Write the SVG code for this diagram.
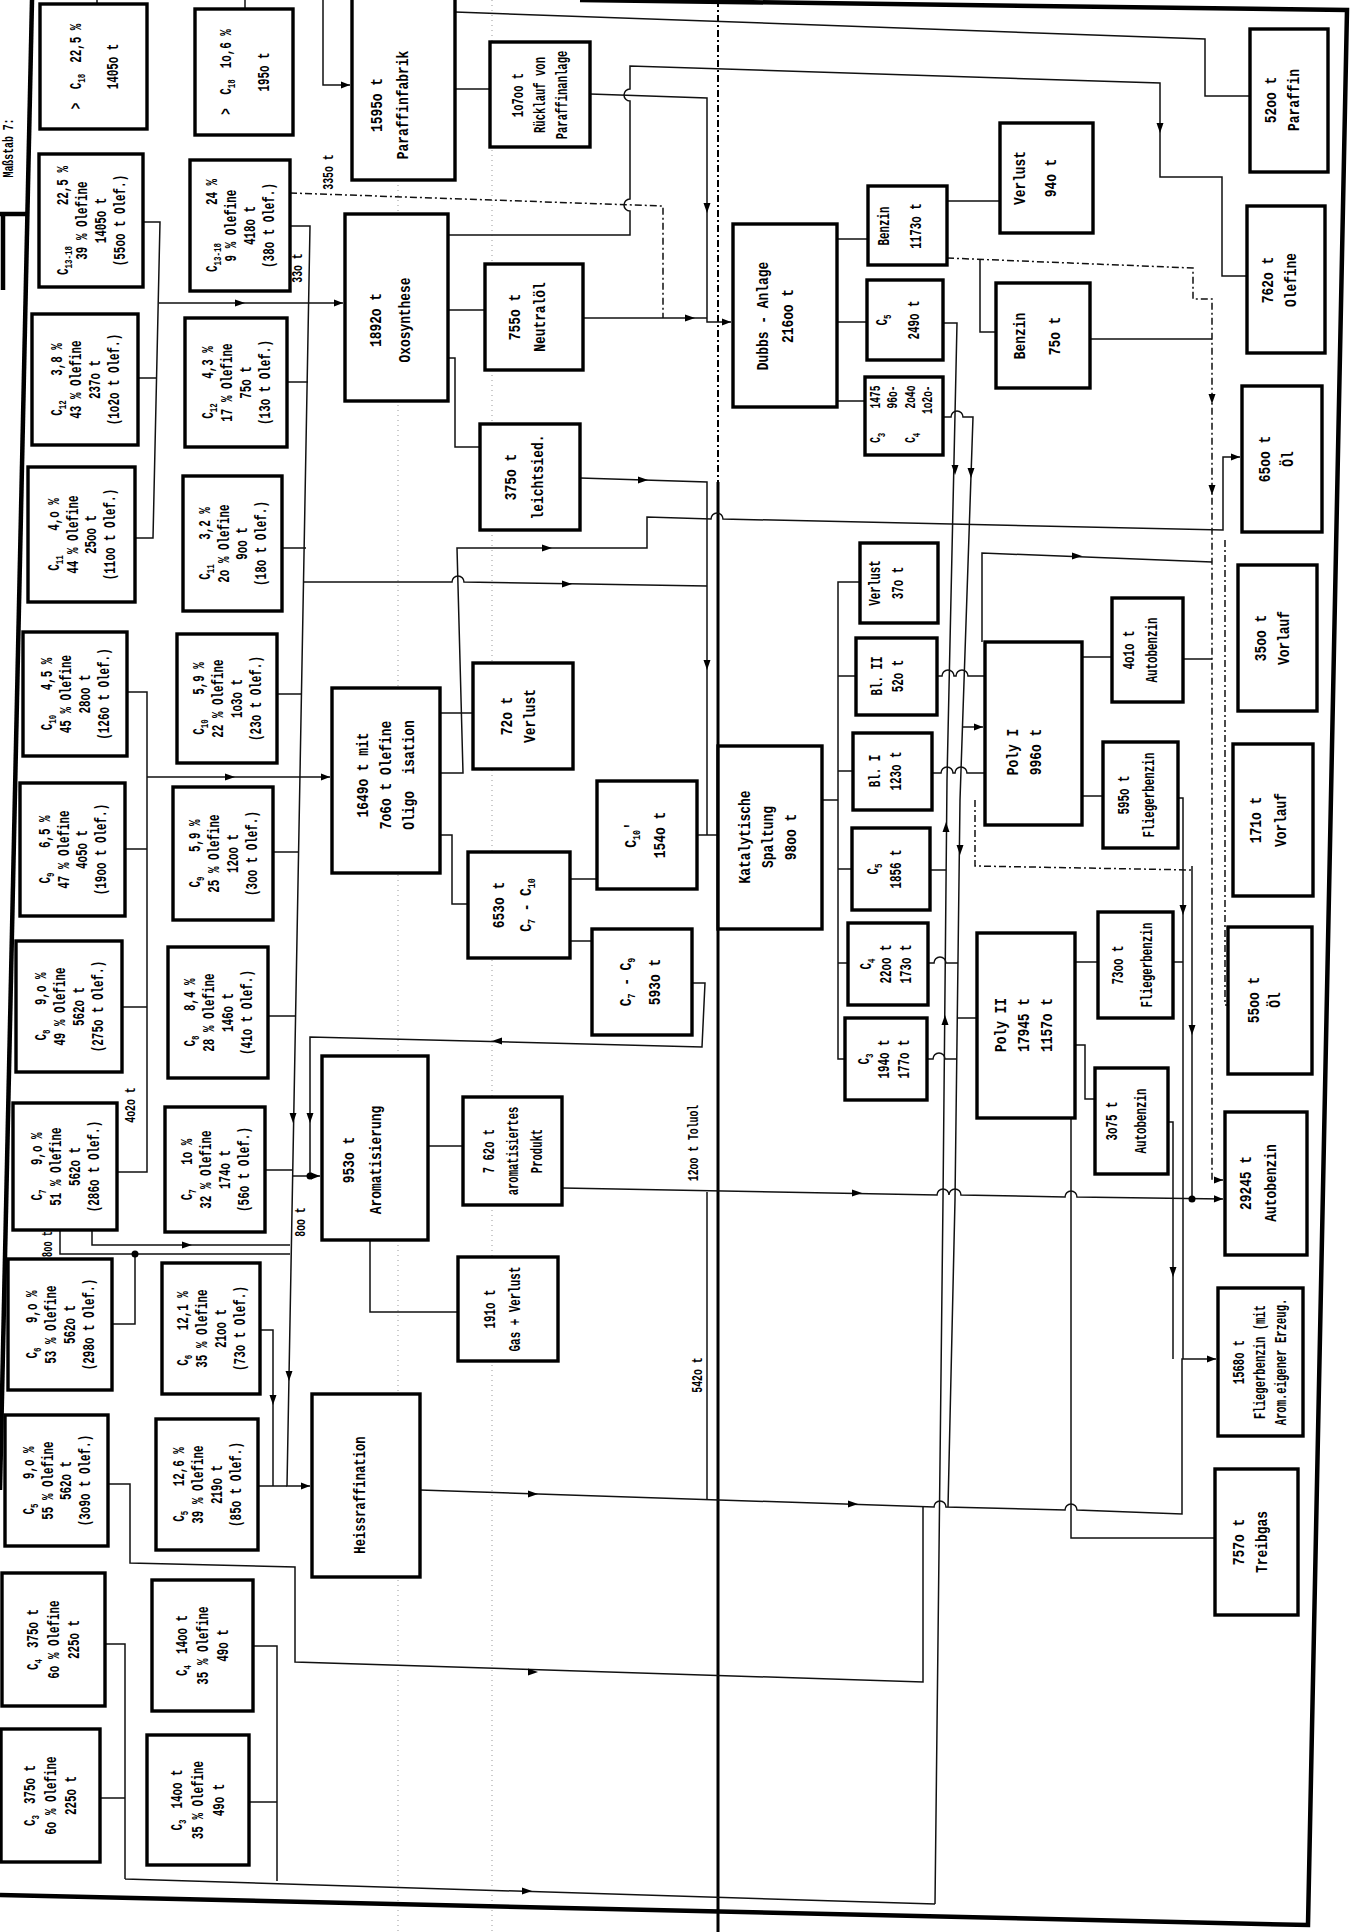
<svg xmlns="http://www.w3.org/2000/svg" xmlns:xlink="http://www.w3.org/1999/xlink" width="1353" height="1932" viewBox="0 0 1353 1932">
<style>
.t{font-family:"Liberation Mono","DejaVu Sans Mono",monospace;font-size:16px;font-weight:bold;fill:#000;text-anchor:middle}
.q{font-size:17px}
.sm{font-size:14px}
.s{font-size:11px}
.b{fill:#fff;stroke:#000;stroke-width:3.4}
.c{fill:none;stroke:#111;stroke-width:1.5}
.dd{stroke-dasharray:7 3 2 3}
.fr{fill:none;stroke:#000;stroke-width:4.5}
.fold{fill:none;stroke:#999;stroke-width:1;stroke-dasharray:1 4}
.dot{fill:#000}
</style>
<defs>
<marker id="a" viewBox="0 0 10 10" refX="10" refY="5" markerWidth="10" markerHeight="9" markerUnits="userSpaceOnUse" orient="auto"><path d="M0,1 L10,5 L0,9 Z" fill="#000"/></marker>
<path id="m" d="M5,0 L-5,-3.5 L-5,3.5 Z" fill="#000"/>
</defs>
<rect width="1353" height="1932" fill="#fff"/>

<g id="frame">
<path class="fold" d="M398,0 V1932 M492,0 V1932"/>
<path class="fr" d="M32,0 L0,1490"/>
<path class="fr" d="M580,0 L1347,10 L1308,1925 L0,1895"/>
<path class="fr" d="M0,214 H28 M3,214 V290"/>
<path fill="none" stroke="#000" stroke-width="2" class="dd" d="M718,0 V482"/>
<path fill="none" stroke="#000" stroke-width="3" d="M718,482 V1932"/>
<g transform="translate(8,148) rotate(-90) scale(0.7,1)"><text class="t sm" y="5">Maßstab 7:</text></g>
</g>

<g id="connectors">
<path class="c" d="M97,0 V4 M245,0 V9"/>
<path class="c" d="M323,0 V85 H350" marker-end="url(#a)"/>
<path class="c" d="M455,89 H490"/>
<path class="c" d="M455,12 L1205,39 V96 H1250"/>
<path class="c" d="M448,235 H630 V211 a6,6 0 0 1 0,-12 V101 a6,6 0 0 1 0,-12 V66 L1160,83 V177 H1222 V276 H1247"/>
<use xlink:href="#m" transform="translate(1160,128) rotate(90)"/>
<path class="c" d="M590,94 L707,98 V322 H731" marker-end="url(#a)"/>
<use xlink:href="#m" transform="translate(707,208) rotate(90)"/>
<path class="c dd" d="M290,193 L663,206 V318"/>
<path class="c" d="M583,318 H707"/>
<use xlink:href="#m" transform="translate(690,318)"/>
<path class="c" d="M290,226 H310 L287,1486 H310" marker-end="url(#a)"/>
<path class="c" d="M287,382 H308 M282,548 H306 M277,694 H302 M273,852 H299 M268,1016 H296 M265,1170 H293 M260,1330 H273 V1486 M258,1486 H287"/>
<use xlink:href="#m" transform="translate(293,1118) rotate(90)"/>
<use xlink:href="#m" transform="translate(289,1376) rotate(90)"/>
<use xlink:href="#m" transform="translate(273,1400) rotate(90)"/>
<path class="c" d="M143,222 H160 L153,538 H135 M138,378 H157 M159,303 H343" marker-end="url(#a)"/>
<use xlink:href="#m" transform="translate(240,303)"/>
<path class="c" d="M448,310 H485 M448,358 H455 V447 H480"/>
<path class="c" d="M580,478 L707,482 V835 H718 M697,835 H707"/>
<use xlink:href="#m" transform="translate(643,480)"/>
<use xlink:href="#m" transform="translate(707,665) rotate(90)"/>
<path class="c" d="M440,773 H463 L457,548 H647 V517 L711,519 a6,6 0 0 1 12,0 L1223,530 V457 H1240" marker-end="url(#a)"/>
<use xlink:href="#m" transform="translate(547,548)"/>
<path class="c" d="M303,582 H452 a6,6 0 0 1 12,0 L707,586"/>
<use xlink:href="#m" transform="translate(567,584)"/>
<path class="c" d="M440,713 H473 M440,835 H452 V904 H468"/>
<path class="c" d="M127,692 H147 V1172 H117 M125,849 H147 M122,1007 H147 M147,777 H330" marker-end="url(#a)"/>
<use xlink:href="#m" transform="translate(230,777)"/>
<path class="c" d="M692,983 H705 L702,1047 L310,1037 V1176 H320" marker-end="url(#a)"/>
<path class="c" d="M293,1176 H310"/>
<circle class="dot" cx="310" cy="1176" r="3.5"/>
<use xlink:href="#m" transform="translate(497,1041) rotate(180)"/>
<use xlink:href="#m" transform="translate(310,1118) rotate(90)"/>
<path class="c" d="M60,1230 V1254 H290 M92,1230 V1245 H290 M112,1324 H135 V1254"/>
<circle class="dot" cx="135" cy="1254" r="3.5"/>
<use xlink:href="#m" transform="translate(187,1245)"/>
<path class="c" d="M428,1146 H463 M370,1240 V1312 H458 M570,879 H597 M570,941 H592"/>
<path class="c" d="M562,1188 L937,1195 a6,6 0 0 1 12,0 a6,6 0 0 1 12,0 L1065,1197 a6,6 0 0 1 12,0 L1223,1199" marker-end="url(#a)"/>
<use xlink:href="#m" transform="translate(857,1193)"/>
<path class="c" d="M707,1192 V1500"/>
<path class="c" d="M420,1490 L934,1507 a6,6 0 0 1 12,0 L1065,1510 a6,6 0 0 1 12,0 L1182,1514 V1359 H1216" marker-end="url(#a)"/>
<use xlink:href="#m" transform="translate(533,1494)"/>
<use xlink:href="#m" transform="translate(853,1504)"/>
<path class="c" d="M1071,1118 V1538 H1215"/>
<path class="c" d="M1178,798 H1183 V1359 M1173,962 H1183 M1168,1122 H1173 V1359"/>
<use xlink:href="#m" transform="translate(1183,910) rotate(90)"/>
<use xlink:href="#m" transform="translate(1173,1272) rotate(90)"/>
<path class="c" d="M1192,866 V1199"/>
<circle class="dot" cx="1192" cy="1199" r="3.5"/>
<use xlink:href="#m" transform="translate(1192,1030) rotate(90)"/>
<path class="c dd" d="M975,800 V866 L1192,870"/>
<path class="c dd" d="M947,258 L1193,268 V299 H1212 V1180 H1223" marker-end="url(#a)"/>
<use xlink:href="#m" transform="translate(1212,399) rotate(90)"/>
<use xlink:href="#m" transform="translate(1212,490) rotate(90)"/>
<path class="c" d="M1088,339 H1212 M1183,659 H1212"/>
<path class="c" d="M982,642 V553 L1212,562"/>
<use xlink:href="#m" transform="translate(1077,556)"/>
<path class="c" d="M980,259 V332 H996 M947,201 H1000"/>
<path class="c" d="M837,239 H868 M833,322 H867 M830,401 H865"/>
<path class="c" d="M943,323 H957 L947,780 L943,1200 L935,1904"/>
<use xlink:href="#m" transform="translate(955,470) rotate(90)"/>
<use xlink:href="#m" transform="translate(946,827) rotate(-90)"/>
<use xlink:href="#m" transform="translate(945,1020) rotate(-90)"/>
<path class="c" d="M942,417 H951 a6,6 0 0 1 12,0 H973 L960,800 L955,1200 L948,1507"/>
<use xlink:href="#m" transform="translate(971,473) rotate(90)"/>
<use xlink:href="#m" transform="translate(960,850) rotate(90)"/>
<path class="c" d="M962,727 H983" marker-end="url(#a)"/>
<path class="c" d="M957,1018 H977 M930,870 H946 M928,963 H934 a6,6 0 0 1 12,0 H958 M927,1059 H933 a6,6 0 0 1 12,0 H957"/>
<path class="c" d="M932,773 H941 a6,6 0 0 1 12,0 H955 a6,6 0 0 1 12,0 H985 M937,676 H942 a6,6 0 0 1 12,0 H956 a6,6 0 0 1 12,0 H985"/>
<path class="c" d="M822,800 H838 M860,582 H838 V1059 H845 M838,676 H856 M838,771 H853 M838,869 H852 M838,963 H848"/>
<path class="c" d="M1082,657 H1112 M1082,796 H1103 M1075,962 H1098 M1075,1045 H1085 V1099 H1095"/>
<path class="c" d="M105,1644 H125 V1879 M100,1798 H125 M253,1646 H277 V1881 M249,1802 H277 M125,1879 L935,1904"/>
<use xlink:href="#m" transform="translate(527,1891)"/>
<path class="c" d="M108,1484 H130 V1563 L295,1567 V1662 L923,1682 V1507"/>
<use xlink:href="#m" transform="translate(533,1672)"/>
<path class="c dd" d="M1225,540 V1005 H1228"/>
</g>

<g id="col1">
<g id="n-c18a"><rect class="b" x="40" y="4" width="107" height="125"/><g transform="translate(93.5,66.5) rotate(-90) scale(0.68,1)"><text class="t" y="-13">&gt;<tspan dx="20">C</tspan><tspan class="s" dy="4">18</tspan><tspan dy="-4" dx="16">22,5 %</tspan></text><text class="t" y="25">1405o t</text></g></g>
<g id="n-c1318a"><rect class="b" x="39" y="154" width="104" height="133"/><g transform="translate(91,220.5) rotate(-90) scale(0.68,1)"><text class="t" y="-23">C<tspan class="s" dy="4">13-18</tspan><tspan dy="-4" dx="60">22,5 %</tspan></text><text class="t" y="-4">39 % Olefine</text><text class="t" y="15">1405o t</text><text class="t" y="34">(55oo t Olef.)</text></g></g>
<g id="n-c12a"><rect class="b" x="32" y="314" width="106" height="131"/><g transform="translate(85,379.5) rotate(-90) scale(0.68,1)"><text class="t" y="-23">C<tspan class="s" dy="4">12</tspan><tspan dy="-4" dx="36">3,8 %</tspan></text><text class="t" y="-4">43 % Olefine</text><text class="t" y="15">237o t</text><text class="t" y="34">(1o2o t Olef.)</text></g></g>
<g id="n-c11a"><rect class="b" x="28" y="467" width="107" height="135"/><g transform="translate(81.5,534.5) rotate(-90) scale(0.68,1)"><text class="t" y="-23">C<tspan class="s" dy="4">11</tspan><tspan dy="-4" dx="36">4,o %</tspan></text><text class="t" y="-4">44 % Olefine</text><text class="t" y="15">25oo t</text><text class="t" y="34">(11oo t Olef.)</text></g></g>
<g id="n-c10a"><rect class="b" x="23" y="632" width="104" height="124"/><g transform="translate(75,694) rotate(-90) scale(0.68,1)"><text class="t" y="-23">C<tspan class="s" dy="4">10</tspan><tspan dy="-4" dx="36">4,5 %</tspan></text><text class="t" y="-4">45 % Olefine</text><text class="t" y="15">28oo t</text><text class="t" y="34">(126o t Olef.)</text></g></g>
<g id="n-c9a"><rect class="b" x="20" y="783" width="105" height="133"/><g transform="translate(72.5,849.5) rotate(-90) scale(0.68,1)"><text class="t" y="-23">C<tspan class="s" dy="4">9</tspan><tspan dy="-4" dx="36">6,5 %</tspan></text><text class="t" y="-4">47 % Olefine</text><text class="t" y="15">4o5o t</text><text class="t" y="34">(19oo t Olef.)</text></g></g>
<g id="n-c8a"><rect class="b" x="16" y="941" width="106" height="131"/><g transform="translate(69,1006.5) rotate(-90) scale(0.68,1)"><text class="t" y="-23">C<tspan class="s" dy="4">8</tspan><tspan dy="-4" dx="36">9,o %</tspan></text><text class="t" y="-4">49 % Olefine</text><text class="t" y="15">562o t</text><text class="t" y="34">(275o t Olef.)</text></g></g>
<g id="n-c7a"><rect class="b" x="13" y="1103" width="104" height="127"/><g transform="translate(65,1166.5) rotate(-90) scale(0.68,1)"><text class="t" y="-23">C<tspan class="s" dy="4">7</tspan><tspan dy="-4" dx="36">9,o %</tspan></text><text class="t" y="-4">51 % Olefine</text><text class="t" y="15">562o t</text><text class="t" y="34">(286o t Olef.)</text></g></g>
<g id="n-c6a"><rect class="b" x="8" y="1259" width="104" height="131"/><g transform="translate(60,1324.5) rotate(-90) scale(0.68,1)"><text class="t" y="-23">C<tspan class="s" dy="4">6</tspan><tspan dy="-4" dx="36">9,o %</tspan></text><text class="t" y="-4">53 % Olefine</text><text class="t" y="15">562o t</text><text class="t" y="34">(298o t Olef.)</text></g></g>
<g id="n-c5a"><rect class="b" x="5" y="1415" width="103" height="131"/><g transform="translate(56.5,1480.5) rotate(-90) scale(0.68,1)"><text class="t" y="-23">C<tspan class="s" dy="4">5</tspan><tspan dy="-4" dx="36">9,o %</tspan></text><text class="t" y="-4">55 % Olefine</text><text class="t" y="15">562o t</text><text class="t" y="34">(3o9o t Olef.)</text></g></g>
<g id="n-c4a"><rect class="b" x="2" y="1573" width="103" height="133"/><g transform="translate(53.5,1639.5) rotate(-90) scale(0.68,1)"><text class="t" y="-16">C<tspan class="s" dy="4">4</tspan><tspan dy="-4" dx="16">375o t</tspan></text><text class="t" y="5">6o % Olefine</text><text class="t" y="26">225o t</text></g></g>
<g id="n-c3a"><rect class="b" x="1" y="1729" width="99" height="133"/><g transform="translate(50.5,1795.5) rotate(-90) scale(0.68,1)"><text class="t" y="-16">C<tspan class="s" dy="4">3</tspan><tspan dy="-4" dx="16">375o t</tspan></text><text class="t" y="5">6o % Olefine</text><text class="t" y="26">225o t</text></g></g>
</g>

<g id="col2">
<g id="n-c18b"><rect class="b" x="195" y="9" width="98" height="126"/><g transform="translate(244,72) rotate(-90) scale(0.68,1)"><text class="t" y="-13">&gt;<tspan dx="20">C</tspan><tspan class="s" dy="4">18</tspan><tspan dy="-4" dx="16">1o,6 %</tspan></text><text class="t" y="25">195o t</text></g></g>
<g id="n-c1318b"><rect class="b" x="190" y="160" width="100" height="131"/><g transform="translate(240,225.5) rotate(-90) scale(0.68,1)"><text class="t" y="-23">C<tspan class="s" dy="4">13-18</tspan><tspan dy="-4" dx="56">24 %</tspan></text><text class="t" y="-4">9 % Olefine</text><text class="t" y="15">418o t</text><text class="t" y="34">(38o t Olef.)</text></g></g>
<g id="n-c12b"><rect class="b" x="185" y="318" width="102" height="129"/><g transform="translate(236,382.5) rotate(-90) scale(0.68,1)"><text class="t" y="-23">C<tspan class="s" dy="4">12</tspan><tspan dy="-4" dx="36">4,3 %</tspan></text><text class="t" y="-4">17 % Olefine</text><text class="t" y="15">75o t</text><text class="t" y="34">(13o t Olef.)</text></g></g>
<g id="n-c11b"><rect class="b" x="183" y="476" width="99" height="135"/><g transform="translate(232.5,543.5) rotate(-90) scale(0.68,1)"><text class="t" y="-23">C<tspan class="s" dy="4">11</tspan><tspan dy="-4" dx="36">3,2 %</tspan></text><text class="t" y="-4">2o % Olefine</text><text class="t" y="15">9oo t</text><text class="t" y="34">(18o t Olef.)</text></g></g>
<g id="n-c10b"><rect class="b" x="177" y="634" width="100" height="129"/><g transform="translate(227,698.5) rotate(-90) scale(0.68,1)"><text class="t" y="-23">C<tspan class="s" dy="4">10</tspan><tspan dy="-4" dx="36">5,9 %</tspan></text><text class="t" y="-4">22 % Olefine</text><text class="t" y="15">1o3o t</text><text class="t" y="34">(23o t Olef.)</text></g></g>
<g id="n-c9b"><rect class="b" x="173" y="787" width="100" height="133"/><g transform="translate(223,853.5) rotate(-90) scale(0.68,1)"><text class="t" y="-23">C<tspan class="s" dy="4">9</tspan><tspan dy="-4" dx="36">5,9 %</tspan></text><text class="t" y="-4">25 % Olefine</text><text class="t" y="15">12oo t</text><text class="t" y="34">(3oo t Olef.)</text></g></g>
<g id="n-c8b"><rect class="b" x="168" y="947" width="100" height="131"/><g transform="translate(218,1012.5) rotate(-90) scale(0.68,1)"><text class="t" y="-23">C<tspan class="s" dy="4">8</tspan><tspan dy="-4" dx="36">8,4 %</tspan></text><text class="t" y="-4">28 % Olefine</text><text class="t" y="15">146o t</text><text class="t" y="34">(41o t Olef.)</text></g></g>
<g id="n-c7b"><rect class="b" x="165" y="1107" width="100" height="125"/><g transform="translate(215,1169.5) rotate(-90) scale(0.68,1)"><text class="t" y="-23">C<tspan class="s" dy="4">7</tspan><tspan dy="-4" dx="36">1o %</tspan></text><text class="t" y="-4">32 % Olefine</text><text class="t" y="15">174o t</text><text class="t" y="34">(56o t Olef.)</text></g></g>
<g id="n-c6b"><rect class="b" x="162" y="1263" width="98" height="131"/><g transform="translate(211,1328.5) rotate(-90) scale(0.68,1)"><text class="t" y="-23">C<tspan class="s" dy="4">6</tspan><tspan dy="-4" dx="36">12,1 %</tspan></text><text class="t" y="-4">35 % Olefine</text><text class="t" y="15">21oo t</text><text class="t" y="34">(73o t Olef.)</text></g></g>
<g id="n-c5b"><rect class="b" x="156" y="1419" width="102" height="131"/><g transform="translate(207,1484.5) rotate(-90) scale(0.68,1)"><text class="t" y="-23">C<tspan class="s" dy="4">5</tspan><tspan dy="-4" dx="36">12,6 %</tspan></text><text class="t" y="-4">39 % Olefine</text><text class="t" y="15">219o t</text><text class="t" y="34">(85o t Olef.)</text></g></g>
<g id="n-c4b"><rect class="b" x="152" y="1580" width="101" height="131"/><g transform="translate(202.5,1645.5) rotate(-90) scale(0.68,1)"><text class="t" y="-16">C<tspan class="s" dy="4">4</tspan><tspan dy="-4" dx="16">14oo t</tspan></text><text class="t" y="5">35 % Olefine</text><text class="t" y="26">49o t</text></g></g>
<g id="n-c3b"><rect class="b" x="147" y="1735" width="102" height="130"/><g transform="translate(198,1800) rotate(-90) scale(0.68,1)"><text class="t" y="-16">C<tspan class="s" dy="4">3</tspan><tspan dy="-4" dx="16">14oo t</tspan></text><text class="t" y="5">35 % Olefine</text><text class="t" y="26">49o t</text></g></g>
</g>

<g id="units">
<g id="n-paraffinfabrik"><rect class="b" x="352" y="-3" width="103" height="183"/><g transform="translate(390,105) rotate(-90) scale(0.76,1)"><text class="t q" y="-8">1595o t</text><text class="t q" y="18">Paraffinfabrik</text></g></g>
<g id="n-ruecklauf"><rect class="b" x="490" y="42" width="100" height="105"/><g transform="translate(540,95) rotate(-90) scale(0.66,1)"><text class="t" y="-17">1o7oo t</text><text class="t" y="5">Rücklauf von</text><text class="t" y="27">Paraffinanlage</text></g></g>
<g id="n-oxo"><rect class="b" x="345" y="214" width="103" height="187"/><g transform="translate(390,320) rotate(-90) scale(0.76,1)"><text class="t q" y="-9">1892o t</text><text class="t q" y="20">Oxosynthese</text></g></g>
<g id="n-neutraloel"><rect class="b" x="485" y="264" width="98" height="106"/><g transform="translate(527,317) rotate(-90) scale(0.76,1)"><text class="t q" y="-7">755o t</text><text class="t q" y="18">Neutralöl</text></g></g>
<g id="n-leichtsied"><rect class="b" x="480" y="424" width="100" height="106"/><g transform="translate(524,477) rotate(-90) scale(0.76,1)"><text class="t q" y="-8">375o t</text><text class="t q" y="19">leichtsied.</text></g></g>
<g id="n-oligo"><rect class="b" x="332" y="688" width="108" height="185"/><g transform="translate(386,775) rotate(-90) scale(0.76,1)"><text class="t q" y="-18">1649o t mit</text><text class="t q" y="5">7o6o t Olefine</text><text class="t q" y="28">Oligo<tspan dx="22">isation</tspan></text></g></g>
<g id="n-verlust720"><rect class="b" x="473" y="663" width="100" height="106"/><g transform="translate(518,716) rotate(-90) scale(0.76,1)"><text class="t q" y="-6">72o t</text><text class="t q" y="17">Verlust</text></g></g>
<g id="n-c7c10"><rect class="b" x="468" y="852" width="102" height="106"/><g transform="translate(512,905) rotate(-90) scale(0.76,1)"><text class="t q" y="-8">653o t</text><text class="t q" y="19">C<tspan class="s" dy="4">7</tspan><tspan dy="-4"> - C</tspan><tspan class="s" dy="4">10</tspan></text></g></g>
<g id="n-c10s"><rect class="b" x="597" y="781" width="100" height="108"/><g transform="translate(645,835) rotate(-90) scale(0.76,1)"><text class="t q" y="-9">C<tspan class="s" dy="4">10</tspan><tspan dy="-4">'</tspan></text><text class="t q" y="20">154o t</text></g></g>
<g id="n-c7c9"><rect class="b" x="592" y="929" width="100" height="106"/><g transform="translate(640,982) rotate(-90) scale(0.76,1)"><text class="t q" y="-9">C<tspan class="s" dy="4">7</tspan><tspan dy="-4"> - C</tspan><tspan class="s" dy="4">9</tspan></text><text class="t q" y="20">593o t</text></g></g>
<g id="n-katalyt"><rect class="b" x="718" y="746" width="104" height="183"/><g transform="translate(768,837) rotate(-90) scale(0.76,1)"><text class="t q" y="-18">Katalytische</text><text class="t q" y="5">Spaltung</text><text class="t q" y="28">98oo t</text></g></g>
<g id="n-aromat"><rect class="b" x="322" y="1056" width="106" height="184"/><g transform="translate(362,1160) rotate(-90) scale(0.76,1)"><text class="t q" y="-8">953o t</text><text class="t q" y="19">Aromatisierung</text></g></g>
<g id="n-arprod"><rect class="b" x="463" y="1097" width="99" height="108"/><g transform="translate(513,1151) rotate(-90) scale(0.66,1)"><text class="t" y="-19">7 62o t</text><text class="t" y="5">aromatisiertes</text><text class="t" y="29">Produkt</text></g></g>
<g id="n-gasverlust"><rect class="b" x="458" y="1257" width="100" height="104"/><g transform="translate(502,1309) rotate(-90) scale(0.68,1)"><text class="t" y="-7">191o t</text><text class="t" y="18">Gas + Verlust</text></g></g>
<g id="n-heiss"><rect class="b" x="312" y="1394" width="108" height="183"/><g transform="translate(360,1495) rotate(-90) scale(0.72,1)"><text class="t q" y="5">Heissraffination</text></g></g>
<g id="n-dubbs"><rect class="b" x="733" y="224" width="104" height="183"/><g transform="translate(775,316) rotate(-90) scale(0.76,1)"><text class="t q" y="-7">Dubbs - Anlage</text><text class="t q" y="18">216oo t</text></g></g>
<g id="n-benzin11730"><rect class="b" x="868" y="186" width="79" height="79"/><g transform="translate(900,226) rotate(-90) scale(0.68,1)"><text class="t" y="-11">Benzin</text><text class="t" y="21">1173o t</text></g></g>
<g id="n-c5-2490"><rect class="b" x="867" y="280" width="76" height="80"/><g transform="translate(898,320) rotate(-90) scale(0.68,1)"><text class="t" y="-11">C<tspan class="s" dy="4">5</tspan></text><text class="t" y="21">249o t</text></g></g>
<g id="n-c3c4"><rect class="b" x="865" y="377" width="78" height="78"/><g transform="translate(904,416) rotate(-90) scale(0.68,1)"><text class="t sm" x="-32" y="-24">C<tspan class="s" dy="5">3</tspan></text><text class="t sm" x="28" y="-24">1475</text><text class="t sm" x="28" y="-7">96o-</text><text class="t sm" x="-32" y="11">C<tspan class="s" dy="5">4</tspan></text><text class="t sm" x="28" y="11">2o4o</text><text class="t sm" x="24" y="28">1o2o-</text></g></g>
<g id="n-verlust370"><rect class="b" x="860" y="543" width="78" height="80"/><g transform="translate(886,583) rotate(-90) scale(0.68,1)"><text class="t" y="-6">Verlust</text><text class="t" y="17">37o t</text></g></g>
<g id="n-bl2"><rect class="b" x="856" y="638" width="81" height="77"/><g transform="translate(887,676) rotate(-90) scale(0.68,1)"><text class="t" y="-5">Bl. II</text><text class="t" y="16">52o t</text></g></g>
<g id="n-bl1"><rect class="b" x="853" y="733" width="79" height="77"/><g transform="translate(885,771) rotate(-90) scale(0.68,1)"><text class="t" y="-5">Bl. I</text><text class="t" y="16">123o t</text></g></g>
<g id="n-c5-1856"><rect class="b" x="852" y="828" width="78" height="82"/><g transform="translate(884,869) rotate(-90) scale(0.68,1)"><text class="t" y="-6">C<tspan class="s" dy="4">5</tspan></text><text class="t" y="17">1856 t</text></g></g>
<g id="n-c4-2200"><rect class="b" x="848" y="923" width="80" height="82"/><g transform="translate(886,964) rotate(-90) scale(0.68,1)"><text class="t" y="-15">C<tspan class="s" dy="4">4</tspan></text><text class="t" y="5">22oo t</text><text class="t" y="25">173o t</text></g></g>
<g id="n-c3-1940"><rect class="b" x="845" y="1018" width="82" height="82"/><g transform="translate(884,1059) rotate(-90) scale(0.68,1)"><text class="t" y="-15">C<tspan class="s" dy="4">3</tspan></text><text class="t" y="5">194o t</text><text class="t" y="25">177o t</text></g></g>
<g id="n-verlust940"><rect class="b" x="1000" y="123" width="93" height="110"/><g transform="translate(1035,178) rotate(-90) scale(0.76,1)"><text class="t q" y="-10">Verlust</text><text class="t q" y="21">94o t</text></g></g>
<g id="n-benzin750"><rect class="b" x="996" y="283" width="94" height="105"/><g transform="translate(1037,336) rotate(-90) scale(0.76,1)"><text class="t q" y="-12">Benzin</text><text class="t q" y="23">75o t</text></g></g>
<g id="n-paraffin"><rect class="b" x="1250" y="29" width="78" height="143"/><g transform="translate(1282,100) rotate(-90) scale(0.76,1)"><text class="t q" y="-6">52oo t</text><text class="t q" y="17">Paraffin</text></g></g>
<g id="n-olefine"><rect class="b" x="1247" y="206" width="78" height="147"/><g transform="translate(1279,280) rotate(-90) scale(0.76,1)"><text class="t q" y="-6">762o t</text><text class="t q" y="17">Olefine</text></g></g>
<g id="n-oel6500"><rect class="b" x="1242" y="386" width="80" height="146"/><g transform="translate(1276,459) rotate(-90) scale(0.76,1)"><text class="t q" y="-6">65oo t</text><text class="t q" y="17">Öl</text></g></g>
<g id="n-vorlauf3500"><rect class="b" x="1238" y="565" width="79" height="146"/><g transform="translate(1272,638) rotate(-90) scale(0.76,1)"><text class="t q" y="-6">35oo t</text><text class="t q" y="17">Vorlauf</text></g></g>
<g id="n-auto4010"><rect class="b" x="1112" y="598" width="71" height="104"/><g transform="translate(1140,650) rotate(-90) scale(0.68,1)"><text class="t" y="-6">4o1o t</text><text class="t" y="17">Autobenzin</text></g></g>
<g id="n-poly1"><rect class="b" x="985" y="642" width="97" height="183"/><g transform="translate(1024,752) rotate(-90) scale(0.76,1)"><text class="t q" y="-6">Poly I</text><text class="t q" y="17">996o t</text></g></g>
<g id="n-flieger5950"><rect class="b" x="1103" y="742" width="75" height="106"/><g transform="translate(1136,795) rotate(-90) scale(0.68,1)"><text class="t" y="-7">595o t</text><text class="t" y="18">Fliegerbenzin</text></g></g>
<g id="n-vorlauf1710"><rect class="b" x="1233" y="744" width="80" height="152"/><g transform="translate(1268,820) rotate(-90) scale(0.76,1)"><text class="t q" y="-7">171o t</text><text class="t q" y="18">Vorlauf</text></g></g>
<g id="n-poly2"><rect class="b" x="977" y="933" width="98" height="185"/><g transform="translate(1024,1025) rotate(-90) scale(0.76,1)"><text class="t q" y="-18">Poly II</text><text class="t q" y="5">17945 t</text><text class="t q" y="28">1157o t</text></g></g>
<g id="n-flieger7300"><rect class="b" x="1098" y="912" width="75" height="106"/><g transform="translate(1132,965) rotate(-90) scale(0.68,1)"><text class="t" y="-9">73oo t</text><text class="t" y="20">Fliegerbenzin</text></g></g>
<g id="n-oel5500"><rect class="b" x="1228" y="927" width="84" height="147"/><g transform="translate(1264,1000) rotate(-90) scale(0.76,1)"><text class="t q" y="-5">55oo t</text><text class="t q" y="16">Öl</text></g></g>
<g id="n-auto3075"><rect class="b" x="1095" y="1068" width="73" height="106"/><g transform="translate(1126,1121) rotate(-90) scale(0.68,1)"><text class="t" y="-9">3o75 t</text><text class="t" y="20">Autobenzin</text></g></g>
<g id="n-auto29245"><rect class="b" x="1225" y="1112" width="82" height="143"/><g transform="translate(1258,1183) rotate(-90) scale(0.76,1)"><text class="t q" y="-7">29245 t</text><text class="t q" y="18">Autobenzin</text></g></g>
<g id="n-flieger15680"><rect class="b" x="1218" y="1288" width="85" height="148"/><g transform="translate(1260,1362) rotate(-90) scale(0.66,1)"><text class="t" y="-16">1568o t</text><text class="t" y="5">Fliegerbenzin (mit</text><text class="t" y="26">Arom.eigener Erzeug.</text></g></g>
<g id="n-treibgas"><rect class="b" x="1215" y="1469" width="83" height="146"/><g transform="translate(1250,1542) rotate(-90) scale(0.76,1)"><text class="t q" y="-6">757o t</text><text class="t q" y="17">Treibgas</text></g></g>
</g>

<g id="labels">
<g transform="translate(328,172) rotate(-90) scale(0.7,1)"><text class="t sm" y="5">335o t</text></g>
<g transform="translate(297,268) rotate(-90) scale(0.7,1)"><text class="t sm" y="5">33o t</text></g>
<g transform="translate(130,1105) rotate(-90) scale(0.7,1)"><text class="t sm" y="5">4o2o t</text></g>
<g transform="translate(47,1244) rotate(-90) scale(0.62,1)"><text class="t sm" y="5">8oo t</text></g>
<g transform="translate(300,1222) rotate(-90) scale(0.7,1)"><text class="t sm" y="5">8oo t</text></g>
<g transform="translate(693,1143) rotate(-90) scale(0.7,1)"><text class="t sm" y="5">12oo t Toluol</text></g>
<g transform="translate(697,1375) rotate(-90) scale(0.7,1)"><text class="t sm" y="5">542o t</text></g>
</g>
</svg>
